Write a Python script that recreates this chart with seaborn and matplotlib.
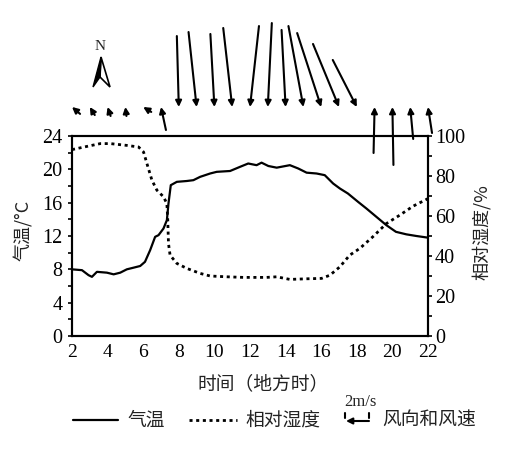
import numpy as np
import pandas as pd
import seaborn as sns
import matplotlib
matplotlib.use("Agg")
import matplotlib.pyplot as plt
import matplotlib.transforms as mtransforms
from matplotlib.lines import Line2D
from matplotlib.patches import Polygon

# ---------------- data ----------------
temp_hours = [2.0, 2.56, 2.93, 3.12, 3.4, 3.96, 4.34, 4.71, 5.08, 5.46, 5.83, 6.1, 6.39,
              6.67, 6.86, 7.14, 7.33, 7.42, 7.55, 7.89, 8.45, 8.82, 9.2, 9.76, 10.13,
              10.88, 11.44, 11.9, 12.37, 12.65, 13.03, 13.5, 14.24, 14.71, 15.18, 15.74,
              16.2, 16.67, 17.05, 17.5, 18.07, 18.54, 19.1, 19.66, 20.2, 20.78, 21.35, 22.0]
temp_vals = [8.0, 7.9, 7.3, 7.1, 7.7, 7.6, 7.4, 7.6, 8.0, 8.2, 8.4, 8.9, 10.3,
             11.9, 12.1, 12.9, 13.9, 15.9, 18.1, 18.5, 18.6, 18.7, 19.1, 19.5, 19.7,
             19.8, 20.3, 20.7, 20.5, 20.8, 20.4, 20.2, 20.5, 20.1, 19.6, 19.5,
             19.3, 18.3, 17.7, 17.1, 16.1, 15.3, 14.3, 13.3, 12.5, 12.2, 12.0, 11.8]

hum_hours = [2.0, 2.84, 3.59, 4.15, 5.08, 5.74, 6.02, 6.21, 6.49, 6.77, 7.14, 7.33, 7.38,
             7.42, 7.51, 7.89, 8.45, 9.2, 9.76, 10.7, 11.63, 12.93, 13.5, 14.24, 15.18,
             16.02, 16.49, 17.05, 17.6, 18.17, 18.9, 19.66, 20.41, 21.16, 22.0]
hum_vals = [93.2, 94.8, 96.2, 96.2, 95.3, 94.5, 92.0, 86.2, 77.9, 72.9, 69.6, 66.2, 57.9,
            46.3, 40.4, 36.3, 33.8, 31.3, 30.0, 29.6, 29.3, 29.3, 29.6, 28.3, 28.6,
            28.8, 30.4, 34.6, 40.4, 43.8, 49.6, 56.2, 60.4, 64.9, 68.7]

# wind: east (u) and north (v) components, m/s
wind_hours = [2, 3, 4, 5, 6, 7, 8, 9, 10, 11, 12, 13, 14, 15, 16, 17, 18, 19, 20, 21, 22]
wind_u = [-0.7, -0.43, -0.26, -0.09, -0.7, -0.43, 0.17, 0.70, 0.35, 0.78, -0.78, -0.35,
          0.35, 1.30, 2.09, 2.26, 2.09, 0.09, -0.09, -0.26, -0.35]
wind_v = [0.6, 0.7, 0.78, 0.78, 0.43, 2.0, -6.17, -6.52, -6.35, -6.87, -7.04, -7.30,
          -6.70, -7.04, -6.43, -5.48, -4.09, 4.0, 5.04, 2.78, 2.26]
scale_speed = 2  # m/s in legend

temp_ticks = list(range(0, 25, 4))
hum_ticks = list(range(0, 101, 20))
hour_ticks = list(range(2, 23, 2))

# ---------------- style ----------------
sns.set_style("white")
plt.rcParams["font.family"] = ["Liberation Serif", "Noto Sans CJK SC"]
CJK = ["Noto Sans CJK SC", "Liberation Serif"]

W, H = 505, 468
fig = plt.figure(figsize=(W / 100, H / 100), dpi=100)
L, R, T, B = 72, 428, 136, 336
ax = fig.add_axes([L / W, 1 - B / H, (R - L) / W, (B - T) / H])

df_t = pd.DataFrame({"hour": temp_hours, "temp": temp_vals})
df_h = pd.DataFrame({"hour": hum_hours, "hum": hum_vals})

sns.lineplot(data=df_t, x="hour", y="temp", ax=ax, color="black", lw=1.6)
ax2 = ax.twinx()
sns.lineplot(data=df_h, x="hour", y="hum", ax=ax2, color="black", lw=2.0,
             linestyle=(0, (1.1, 1.3)))

ax.set_xlim(2, 22)
ax.set_ylim(0, 24)
ax2.set_ylim(0, 100)
ax.set_xticks(hour_ticks)
ax.set_xticks(range(2, 23), minor=True)
ax.set_yticks(temp_ticks)
ax.set_yticks(range(0, 25, 2), minor=True)
ax2.set_yticks(hum_ticks)
ax2.set_yticks(range(0, 101, 10), minor=True)

ax.tick_params(axis="x", which="both", direction="in", length=3, width=1.2,
               labelsize=14, pad=6, colors="black")
ax.tick_params(axis="y", which="both", direction="out", length=3, width=1.2,
               labelsize=14.5, pad=4, colors="black")
ax2.tick_params(axis="y", which="both", direction="out", length=3, width=1.2,
                labelsize=14.5, pad=2, colors="black")

for a in (ax, ax2):
    for s in a.spines.values():
        s.set_color("black")
        s.set_linewidth(1.5)

ax.set_xlabel("时间（地方时）", fontsize=13.5, family=CJK, color="#222222")
ax.xaxis.set_label_coords((263 - L) / (R - L), (B - 373) / (B - T))
ax.set_ylabel("气温/°C", fontsize=13, family=CJK, color="#222222")
ax.yaxis.set_label_coords((33 - L) / (R - L), 0.53)
ax2.set_ylabel("相对湿度/%", fontsize=13, family=CJK, color="#222222")
ax2.yaxis.set_label_coords((472 - L) / (R - L), 0.52)

# ---------------- wind arrows ----------------
px_per_ms = 11.5
trans = mtransforms.blended_transform_factory(ax.transData, fig.transFigure)
base_y = 1 - 107 / H
for h, u, v in zip(wind_hours, wind_u, wind_v):
    ax.annotate("", xy=(h, base_y), xycoords=trans,
                xytext=(-u * px_per_ms, -v * px_per_ms), textcoords="offset pixels",
                arrowprops=dict(arrowstyle="-|>", color="black", lw=1.5,
                                mutation_scale=9, shrinkA=0, shrinkB=0),
                annotation_clip=False)

# north symbol
fig.text(100 / W, 1 - 46 / H, "N", ha="center", va="center", fontsize=11,
         family="Liberation Serif")
def fp(x, y):
    return (x / W, 1 - y / H)
fig.patches.append(Polygon([fp(101, 57), fp(93, 87), fp(100, 77)], closed=True,
                           facecolor="black", edgecolor="black", lw=1,
                           transform=fig.transFigure))
fig.patches.append(Polygon([fp(101, 57), fp(110, 87), fp(100, 77)], closed=True,
                           facecolor="none", edgecolor="black", lw=1.2,
                           transform=fig.transFigure))

# ---------------- legend ----------------
ly = 1 - 420 / H
fig.lines.append(Line2D([73 / W, 118 / W], [ly, ly], color="black", lw=1.6,
                        transform=fig.transFigure))
fig.text(127 / W, ly, "气温", family=CJK, fontsize=13.5, va="center", ha="left",
         color="#222222")
fig.lines.append(Line2D([189 / W, 237 / W], [ly, ly], color="black", lw=2.0,
                        linestyle=(0, (1.1, 1.3)), transform=fig.transFigure))
fig.text(245 / W, ly, "相对湿度", family=CJK, fontsize=13.5, va="center", ha="left",
         color="#222222")
# scale arrow (2 m/s)
x0 = 369
x1 = x0 - scale_speed * px_per_ms * 1.0
ax.annotate("", xy=(x1 / W, 1 - 421 / H), xycoords="figure fraction",
            xytext=(x0 / W, 1 - 421 / H), textcoords="figure fraction",
            arrowprops=dict(arrowstyle="-|>", color="black", lw=1.5,
                            mutation_scale=9, shrinkA=0, shrinkB=0),
            annotation_clip=False)
for xx in (x1 - 1, x0):
    fig.lines.append(Line2D([xx / W, xx / W], [1 - 413 / H, 1 - 418 / H],
                            color="black", lw=1.5, transform=fig.transFigure))
fig.text(360 / W, 1 - 402 / H, "2m/s", family="Liberation Serif", fontsize=12,
         ha="center", va="center")
fig.text(382 / W, ly, "风向和风速", family=CJK, fontsize=13.5, va="center", ha="left",
         color="#222222")

fig.savefig("out.png", dpi=100, facecolor="white")
